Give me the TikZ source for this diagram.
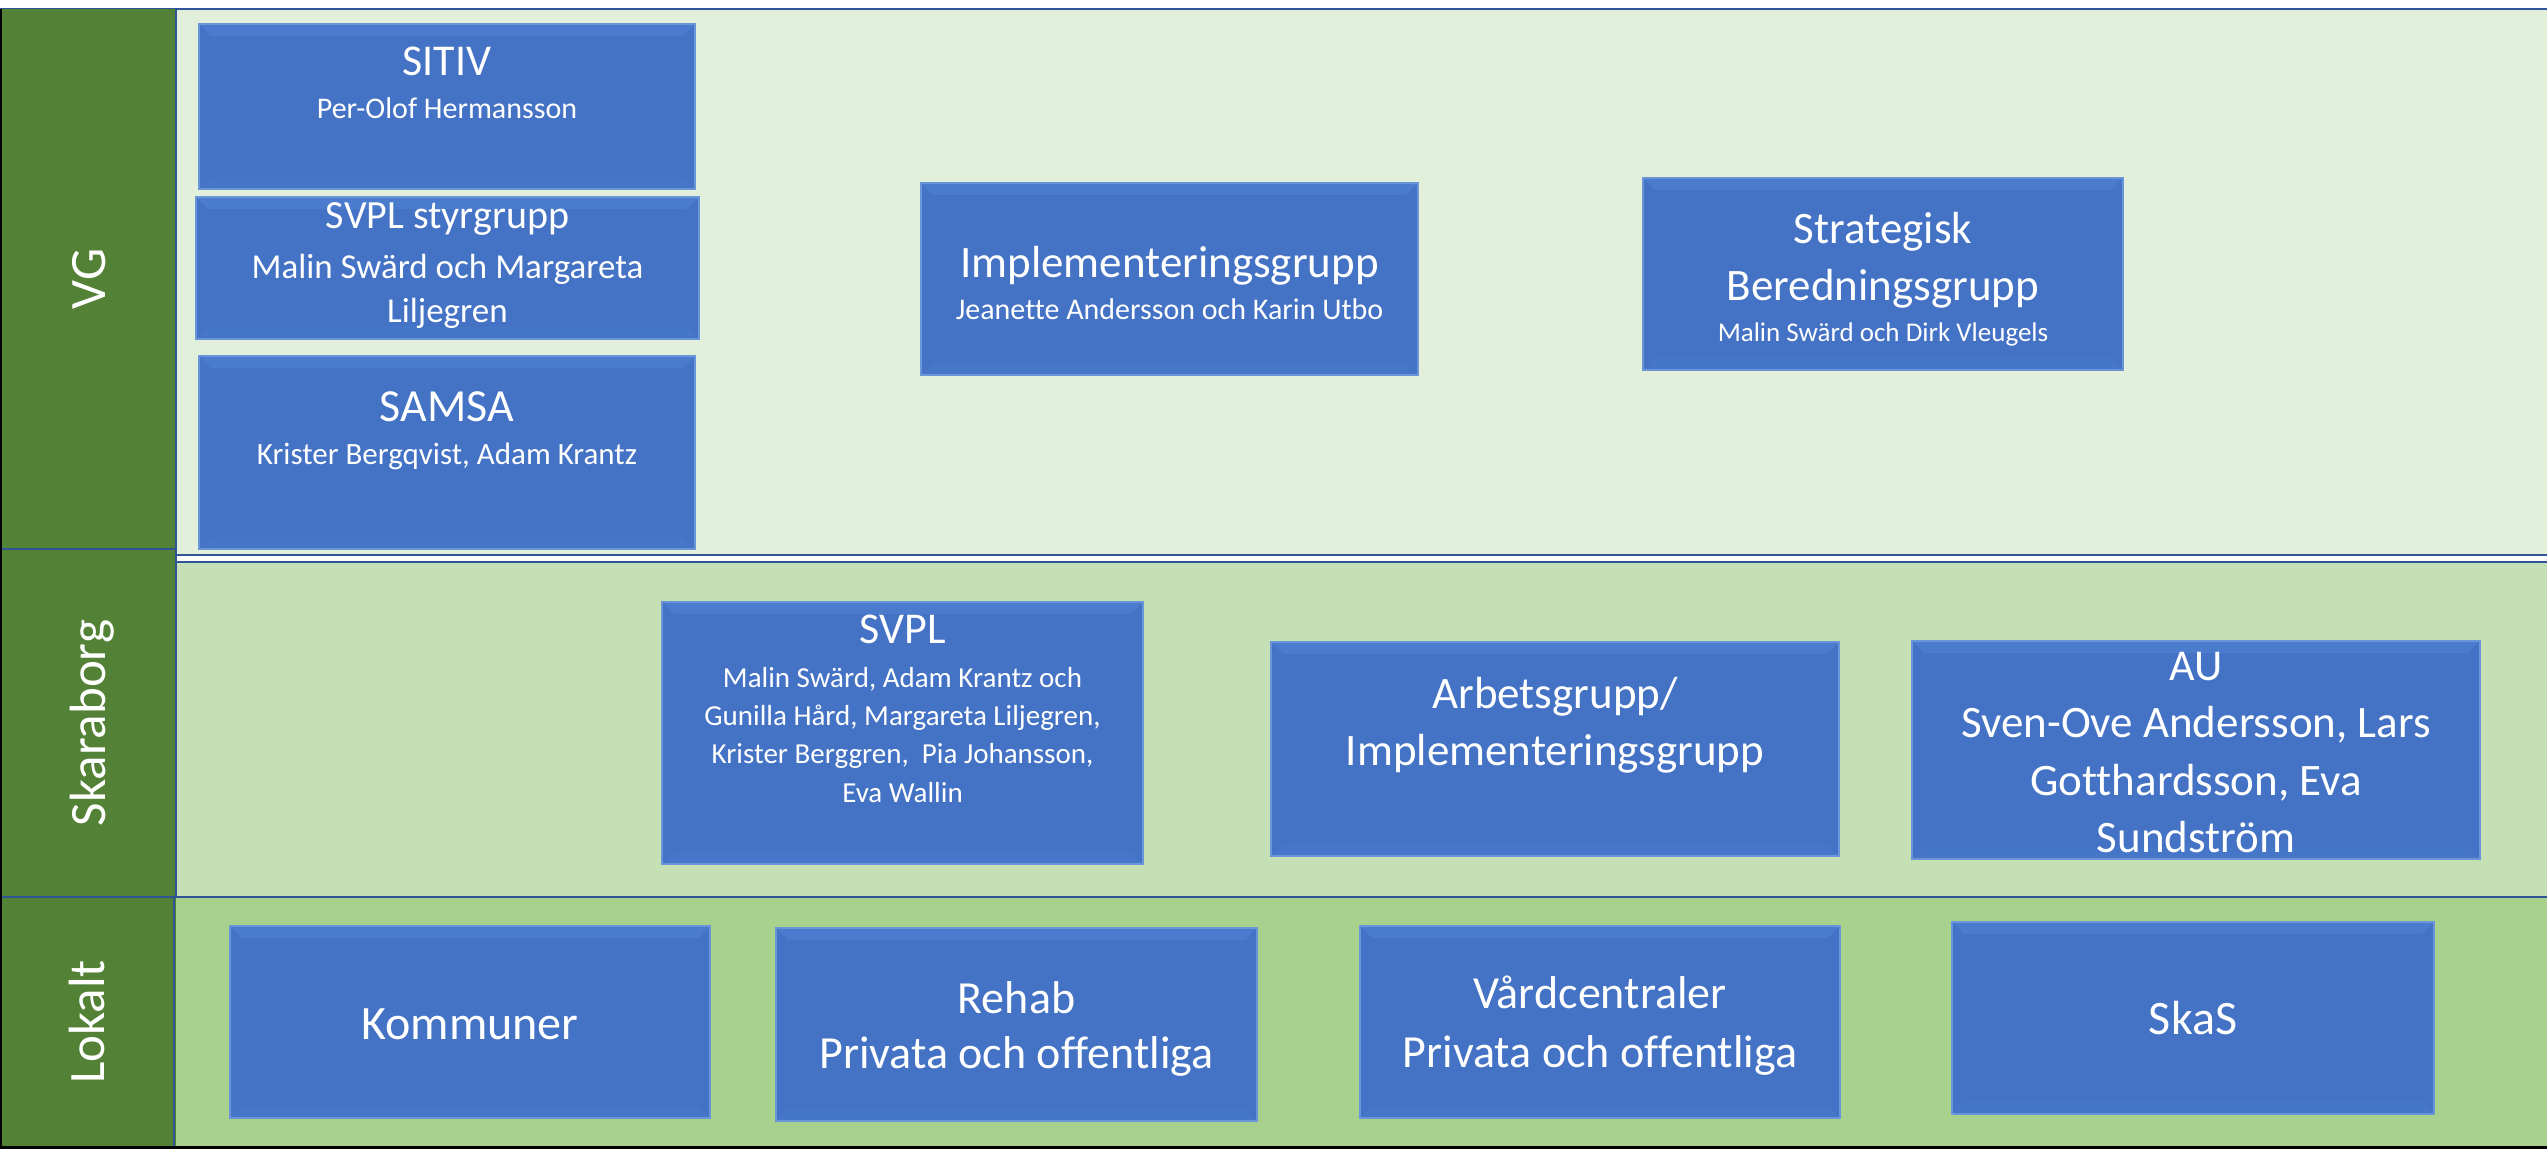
\documentclass[tikz,border=0pt]{standalone}
\usepackage{fontspec}
\setmainfont{Carlito}[Ligatures=NoCommon]
\definecolor{colgreen}{HTML}{538135}
\definecolor{vgband}{HTML}{E2EFDA}
\definecolor{skband}{HTML}{C5E0B4}
\definecolor{loband}{HTML}{A9D18E}
\definecolor{bandline}{HTML}{2F5597}
\definecolor{boxfill}{HTML}{4472C4}
\definecolor{boxedge}{HTML}{6A95D8}
\definecolor{boxhi}{HTML}{4A7BCD}
\definecolor{boxlo}{HTML}{4676C8}
\newcommand\orgbox[5]{\node[orgbx,minimum width={(#4-#2)*1pt},minimum height={(#5-#3)*1pt},anchor=north west] (#1) at (#2,#3) {};}
\newcommand\boxline[5]{\node[lbl,font=\fontsize{#4pt}{#4pt}\selectfont,anchor=base] (#1) at (#2,#3) {#5};}
\begin{document}
\begin{tikzpicture}[x=1pt,y=-1pt,
  orgbx/.style={draw=boxedge,line width=1.5pt,fill=boxfill,inner sep=0pt,outer sep=0pt,
    path picture={
      \fill[boxhi] (path picture bounding box.north west) -- (path picture bounding box.north east)
        -- ([xshift=-12pt,yshift=-12pt]path picture bounding box.north east)
        -- ([xshift=12pt,yshift=-12pt]path picture bounding box.north west) -- cycle;
      \fill[boxlo] (path picture bounding box.south west) -- (path picture bounding box.south east)
        -- ([xshift=-12pt,yshift=12pt]path picture bounding box.south east)
        -- ([xshift=12pt,yshift=12pt]path picture bounding box.south west) -- cycle;
    }},
  lbl/.style={text=white,inner sep=0pt,outer sep=0pt},
  side/.style={text=white,inner sep=0pt,font=\fontsize{51pt}{51pt}\selectfont,rotate=90,anchor=base},
  bandedge/.style={draw=bandline,line width=2.5pt}]
\useasboundingbox (0,0) rectangle (2547,1149);
\fill[white] (0,0) rectangle (2547,1149);
% bands
\fill[vgband] (176,9) rectangle (2547,555);
\fill[skband] (176,562) rectangle (2547,897);
\fill[loband] (174,897) rectangle (2547,1147);
\draw[bandedge] (0,9) -- (2547,9);
\draw[bandedge] (176,555) -- (2547,555);
\draw[bandedge] (176,562) -- (2547,562);
\draw[bandedge] (174,897) -- (2547,897);
% left column
\fill[colgreen] (0,9) rectangle (176,1147);
\draw[bandedge] (176,9) -- (176,897);
\draw[bandedge] (174,897) -- (174,1147);
\draw[bandedge] (0,549) -- (176,549);
\draw[bandedge] (0,897) -- (176,897);
\fill[black] (0,9) rectangle (2,1149);
\fill[black] (0,1146) rectangle (2547,1149);
\node[side] (vg) at (105,279) {VG};
\node[side] (skb) at (105,723) {Skaraborg};
\node[side] (lok) at (104,1022) {Lokalt};
% VG boxes
\orgbox{sitiv}{199}{24}{695}{189}
\orgbox{styr}{196}{197}{699}{339}
\orgbox{samsa}{199}{356}{695}{549}
\orgbox{implvg}{921}{183}{1418}{375}
\orgbox{strat}{1643}{178}{2123}{370}
% Skaraborg boxes
\orgbox{svpl}{662}{602}{1143}{864}
\orgbox{arbets}{1271}{642}{1839}{856}
\orgbox{au}{1912}{641}{2480}{859}
% Lokalt boxes
\orgbox{komm}{230}{926}{710}{1118}
\orgbox{rehab}{776}{928}{1257}{1121}
\orgbox{vard}{1360}{926}{1840}{1118}
\orgbox{skas}{1952}{922}{2434}{1114}
% texts
\boxline{sitA}{447}{75}{44}{SITIV}
\boxline{sitB}{447}{118}{30}{Per-Olof Hermansson}
\boxline{styA}{447.5}{228.6}{40}{SVPL styrgrupp}
\boxline{styB}{447.5}{278}{35}{Malin Swärd och Margareta}
\boxline{styC}{447.5}{322.5}{35}{Liljegren}
\boxline{samA}{447}{421}{46}{SAMSA}
\boxline{samB}{447}{464}{31}{Krister Bergqvist, Adam Krantz}
\boxline{impA}{1169.5}{277}{45}{Implementeringsgrupp}
\boxline{impB}{1169.5}{319}{30}{Jeanette Andersson och Karin Utbo}
\boxline{strA}{1883}{243}{45}{Strategisk}
\boxline{strB}{1883}{300}{45}{Beredningsgrupp}
\boxline{strC}{1883}{341}{27}{Malin Swärd och Dirk Vleugels}
\boxline{svA}{902.5}{643}{44}{SVPL}
\boxline{svB}{902.5}{687}{29}{Malin Swärd, Adam Krantz och}
\boxline{svC}{902.5}{725}{29}{Gunilla Hård, Margareta Liljegren,}
\boxline{svD}{902.5}{763}{29}{Krister Berggren,\ \ Pia Johansson,}
\boxline{svE}{902.5}{802}{29}{Eva Wallin}
\boxline{arA}{1555}{708}{45}{Arbetsgrupp/}
\boxline{arB}{1555}{765}{45}{Implementeringsgrupp}
\boxline{auA}{2196}{680}{44}{AU}
\boxline{auB}{2196}{737}{45}{Sven-Ove Andersson, Lars}
\boxline{auC}{2196}{795}{45}{Gotthardsson, Eva}
\boxline{auD}{2196}{852}{45}{Sundström}
\boxline{komA}{470}{1039}{48}{Kommuner}
\boxline{rehA}{1016.5}{1013}{46}{Rehab}
\boxline{rehB}{1016.5}{1068}{46}{Privata och offentliga}
\boxline{varA}{1600}{1008}{46}{Vårdcentraler}
\boxline{varB}{1600}{1067}{46}{Privata och offentliga}
\boxline{skaA}{2193}{1034}{48}{SkaS}
\end{tikzpicture}
\end{document}
